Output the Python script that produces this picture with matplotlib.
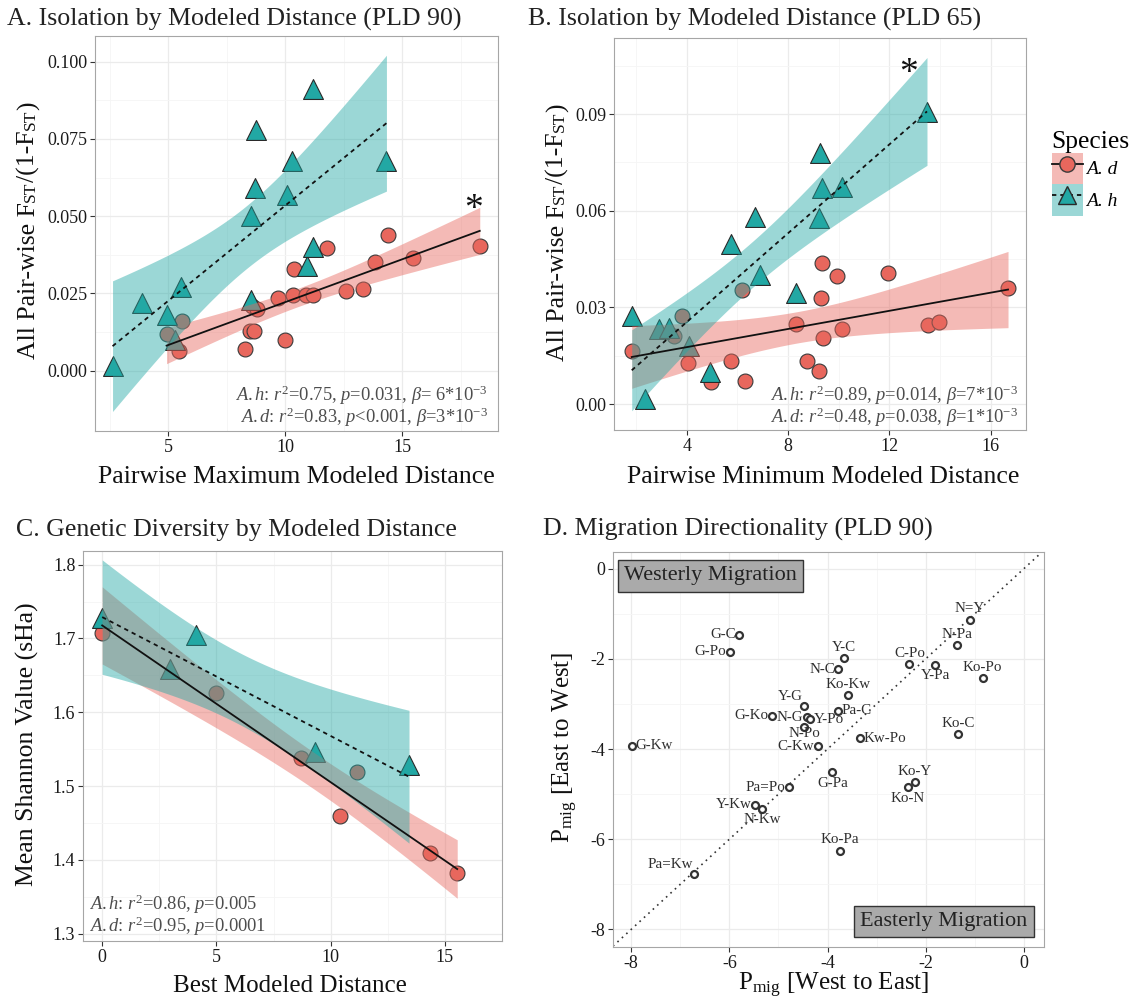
import numpy as np
import matplotlib
matplotlib.use('Agg')
import matplotlib.pyplot as plt
from matplotlib.lines import Line2D
from matplotlib.patches import Patch

SERIF = 'Liberation Serif'
plt.rcParams['font.family'] = SERIF
plt.rcParams['mathtext.fontset'] = 'custom'
plt.rcParams['mathtext.rm'] = SERIF
plt.rcParams['mathtext.it'] = SERIF + ':italic'
plt.rcParams['axes.unicode_minus'] = False

# A: isolation by maximum modeled distance (PLD 90)
a_h_dist = [2.62, 3.90, 4.93, 5.54, 5.31, 8.56, 8.52, 8.73, 8.77, 10.09, 10.31, 11.17, 10.94, 11.17, 14.33]
a_h_fst = [0.0015, 0.022, 0.018, 0.027, 0.010, 0.023, 0.050, 0.059, 0.078, 0.057, 0.068, 0.091, 0.034, 0.040, 0.068]
a_d_dist = [4.93, 5.61, 5.46, 8.28, 8.49, 8.66, 8.60, 8.80, 10.01, 9.70, 10.34, 10.88, 11.20, 10.37, 11.81,
            12.58, 13.33, 13.83, 14.40, 15.47, 18.32]
a_d_fst = [0.012, 0.016, 0.0065, 0.007, 0.013, 0.013, 0.021, 0.020, 0.010, 0.0236, 0.0245, 0.0245, 0.0245, 0.033,
           0.0396, 0.0258, 0.0266, 0.0353, 0.0439, 0.0364, 0.0403]

# B: isolation by minimum modeled distance (PLD 65)
b_h_dist = [13.49, 1.83, 2.34, 2.92, 3.30, 4.08, 4.93, 5.75, 6.68, 6.89, 8.30, 9.26, 9.34, 10.15, 9.23]
b_h_fst = [0.0907, 0.0273, 0.0015, 0.0232, 0.0235, 0.018, 0.0098, 0.0497, 0.0582, 0.0402, 0.0345, 0.0778,
           0.0672, 0.0674, 0.0577]
b_d_dist = [1.83, 3.81, 3.50, 4.05, 4.96, 5.75, 6.17, 6.29, 8.30, 8.77, 9.22, 9.31, 9.34, 9.37, 9.93, 10.15,
            11.97, 13.52, 13.95, 16.69]
b_d_fst = [0.0165, 0.0273, 0.021, 0.0126, 0.0067, 0.0134, 0.0353, 0.0072, 0.0247, 0.0134, 0.0103, 0.033,
           0.0438, 0.0206, 0.0397, 0.0234, 0.0407, 0.0244, 0.0256, 0.0361]

# C: genetic diversity vs best modeled distance
c_h_dist = [0.0, 2.96, 4.09, 9.30, 13.43]
c_h_sha = [1.728, 1.659, 1.704, 1.546, 1.528]
c_d_dist = [0.0, 4.96, 8.72, 10.39, 11.14, 14.33, 15.54]
c_d_sha = [1.708, 1.626, 1.538, 1.459, 1.519, 1.409, 1.382]

# D: migration directionality (PLD 90)
pairs = ['N=Y', 'N-Pa', 'G-C', 'G-Po', 'Y-C', 'N-C', 'C-Po', 'Y-Pa', 'Ko-Po', 'Ko-Kw', 'Y-G', 'Pa-C', 'G-Ko',
         'N-G', 'Y-Po', 'N-Po', 'Kw-Po', 'Ko-C', 'G-Kw', 'C-Kw', 'G-Pa', 'Ko-Y', 'Ko-N', 'Pa=Po', 'Y-Kw',
         'N-Kw', 'Ko-Pa', 'Pa=Kw']
pmig_w2e = [-1.10, -1.36, -5.80, -5.99, -3.67, -3.78, -2.33, -1.81, -0.84, -3.58, -4.47, -3.78, -5.13,
            -4.42, -4.36, -4.48, -3.33, -1.34, -7.98, -4.20, -3.90, -2.22, -2.36, -4.79, -5.47, -5.33,
            -3.74, -6.71]
pmig_e2w = [-1.13, -1.69, -1.47, -1.84, -1.99, -2.23, -2.11, -2.13, -2.43, -2.81, -3.04, -3.15, -3.26,
            -3.30, -3.34, -3.50, -3.76, -3.67, -3.93, -3.94, -4.52, -4.74, -4.85, -4.85, -5.23, -5.33,
            -6.25, -6.76]
label_side = ['a', 'a', 'l', 'l', 'a', 'l', 'a', 'b', 'a', 'a', 'al', 'r', 'l',
              'l', 'r', 'bt', 'r', 'a', 'r', 'l', 'b', 'a', 'b', 'l', 'l',
              'b', 'a', 'al']

RED = '#E8675D'
TEAL = '#22A8A4'
W, H = 1135, 1005


def t975(dof):
    # Cornish-Fisher expansion of the Student t 97.5% quantile
    z = 1.959964
    v = float(dof)
    return (z + (z**3 + z) / (4 * v) + (5 * z**5 + 16 * z**3 + 3 * z) / (96 * v**2)
            + (3 * z**7 + 19 * z**5 + 17 * z**3 - 15 * z) / (384 * v**3)
            + (79 * z**9 + 776 * z**7 + 1482 * z**5 - 1920 * z**3 - 945 * z) / (92160 * v**4))


def lm_band(x, y, n=100):
    x = np.asarray(x, float)
    y = np.asarray(y, float)
    b1, b0 = np.polyfit(x, y, 1)
    xs = np.linspace(x.min(), x.max(), n)
    fit = b0 + b1 * xs
    resid = y - (b0 + b1 * x)
    dof = len(x) - 2
    s = np.sqrt(np.sum(resid**2) / dof)
    se = s * np.sqrt(1 / len(x) + (xs - x.mean())**2 / np.sum((x - x.mean())**2))
    t = t975(dof)
    return xs, fit, fit - t * se, fit + t * se


def draw_species(ax, dx, dy, hx, hy):
    ax.scatter(dx, dy, s=115, marker='o', facecolor=RED, edgecolor='#3a3a3a', linewidth=0.8, zorder=3)
    ax.scatter(hx, hy, s=205, marker='^', facecolor=TEAL, edgecolor='#2a2a2a', linewidth=0.8, zorder=3)
    for x, y, col, ls in [(dx, dy, RED, '-'), (hx, hy, TEAL, (0, (2.4, 2.2)))]:
        xs, fit, lo, hi = lm_band(x, y)
        ax.fill_between(xs, lo, hi, color=col, alpha=0.45, lw=0, zorder=4)
        ax.plot(xs, fit, color='#111111', lw=1.3, ls=ls, zorder=5)


def style_axes(ax, xlim, ylim, xmaj, xmin, ymaj, ymin, yfmt='{:g}'):
    ax.set_xlim(xlim)
    ax.set_ylim(ylim)
    ax.set_xticks(xmaj)
    ax.set_xticks(xmin, minor=True)
    ax.set_yticks(ymaj)
    ax.set_yticks(ymin, minor=True)
    ax.set_xticklabels(['{:g}'.format(v) for v in xmaj])
    ax.set_yticklabels([yfmt.format(v) for v in ymaj])
    ax.grid(which='major', color='#EBEBEB', lw=0.9)
    ax.grid(which='minor', color='#F5F5F5', lw=0.6)
    ax.set_axisbelow(True)
    ax.tick_params(which='major', length=3.5, width=0.8, color='#333333', labelsize=13,
                   labelcolor='#1a1a1a', pad=2)
    ax.tick_params(which='minor', length=0)
    for sp in ax.spines.values():
        sp.set_color('#A6A6A6')
        sp.set_linewidth(0.8)


def px_axes(fig, x0, y0, x1, y1):
    return fig.add_axes([x0 / W, 1 - y1 / H, (x1 - x0) / W, (y1 - y0) / H])


def vertical_label(fig, x_base, y_center, pieces):
    # rotated label built from pieces of different sizes sharing one baseline
    renderer = fig.canvas.get_renderer()
    arts = []
    for s, size in pieces:
        t = fig.text(0, 0, s, fontsize=size, rotation=90, rotation_mode='anchor',
                     ha='left', va='baseline', color='#111111')
        arts.append((t, t.get_window_extent(renderer).height))
    total = sum(h for _, h in arts)
    y = y_center + total / 2
    for t, h in arts:
        t.set_position((x_base / W, 1 - y / H))
        y -= h


def stats_note(ax, x, y, lines, ha):
    ax.text(x, y, '\n'.join(lines), transform=ax.transAxes, ha=ha, va='bottom', multialignment=ha,
            fontsize=13.3, color='#4d4d4d', linespacing=0.92)


fig = plt.figure(figsize=(W / 100, H / 100), dpi=100)

# ---- A
axA = px_axes(fig, 95, 36, 498, 431)
draw_species(axA, a_d_dist, a_d_fst, a_h_dist, a_h_fst)
style_axes(axA, (1.87, 19.1), (-0.0195, 0.1083), [5, 10, 15], [2.5, 7.5, 12.5, 17.5],
           [0, 0.025, 0.05, 0.075, 0.1], [0.0125, 0.0375, 0.0625, 0.0875], '{:.3f}')
stats_note(axA, 0.975, 0.004, [r'$A.h$: $r^2$=0.75, $p$=0.031, $\beta$= 6*10$^{-3}$',
                               r'$A.d$: $r^2$=0.83, $p$<0.001, $\beta$=3*10$^{-3}$'], 'right')
axA.text(0.94, 0.56, '*', transform=axA.transAxes, ha='center', va='center', fontsize=27, color='#111111')

# ---- B
axB = px_axes(fig, 614, 38, 1026, 430.5)
draw_species(axB, b_d_dist, b_d_fst, b_h_dist, b_h_fst)
style_axes(axB, (1.13, 17.4), (-0.0082, 0.1136), [4, 8, 12, 16], [2, 6, 10, 14],
           [0, 0.03, 0.06, 0.09], [0.015, 0.045, 0.075, 0.105], '{:.2f}')
stats_note(axB, 0.981, 0.003, [r'$A.h$: $r^2$=0.89, $p$=0.014, $\beta$=7*10$^{-3}$',
                               r'$A.d$: $r^2$=0.48, $p$=0.038, $\beta$=1*10$^{-3}$'], 'right')
axB.text(0.714, 0.91, '*', transform=axB.transAxes, ha='center', va='center', fontsize=27, color='#111111')

# ---- C
axC = px_axes(fig, 83, 551, 502, 941)
draw_species(axC, c_d_dist, c_d_sha, c_h_dist, c_h_sha)
style_axes(axC, (-0.84, 17.35), (1.290, 1.8185), [0, 5, 10, 15], [2.5, 7.5, 12.5, 17.5],
           [1.3, 1.4, 1.5, 1.6, 1.7, 1.8], [1.35, 1.45, 1.55, 1.65, 1.75], '{:.1f}')
stats_note(axC, 0.014, 0.008, [r'$A.h$: $r^2$=0.86, $p$=0.005',
                               r'$A.d$: $r^2$=0.95, $p$=0.0001'], 'left')

# ---- D
axD = px_axes(fig, 613, 552, 1044, 947)
style_axes(axD, (-8.37, 0.41), (-8.39, 0.37), [-8, -6, -4, -2, 0], [-7, -5, -3, -1],
           [-8, -6, -4, -2, 0], [-7, -5, -3, -1])
axD.axline((0, 0), slope=1, color='#333333', lw=1.2, ls=(0, (1, 2.6)), zorder=2)
axD.plot(pmig_w2e, pmig_e2w, ls='none', marker='o', ms=5, mfc='white', mec='#333333', mew=1.6, zorder=3)
offsets = {'a': ((0, 3), 'center', 'bottom'), 'b': ((0, -3), 'center', 'top'),
           'bt': ((0, -0.5), 'center', 'top'),
           'l': ((-2.5, 0), 'right', 'center'), 'r': ((2.5, 0), 'left', 'center'),
           'al': ((-1, 2), 'right', 'bottom')}
for name, x, y, side in zip(pairs, pmig_w2e, pmig_e2w, label_side):
    off, ha, va = offsets[side]
    axD.annotate(name, (x, y), xytext=off, textcoords='offset points', ha=ha, va=va,
                 fontsize=10.8, color='#2e2e2e', zorder=4)
box_kw = dict(boxstyle='square,pad=0.28', fc='#AAAAAA', ec='#333333', lw=1.0)
axD.text(-8.14, -0.16, 'Westerly Migration', ha='left', va='center', fontsize=16, color='#222222',
         bbox=box_kw, zorder=5)
axD.text(0.07, -7.82, 'Easterly Migration', ha='right', va='center', fontsize=16, color='#222222',
         bbox=box_kw, zorder=5)

# ---- titles and axis labels
title_kw = dict(fontsize=18.6, color='#222222', va='baseline', ha='left')
fig.text(7 / W, 1 - 26 / H, 'A. Isolation by Modeled Distance (PLD 90)', **title_kw)
fig.text(528 / W, 1 - 26 / H, 'B. Isolation by Modeled Distance (PLD 65)', **title_kw)
fig.text(16 / W, 1 - 536 / H, 'C. Genetic Diversity by Modeled Distance', **title_kw)
fig.text(543 / W, 1 - 536 / H, 'D. Migration Directionality (PLD 90)', **title_kw)

xl_kw = dict(ha='center', va='baseline', color='#111111')
fig.text(296 / W, 1 - 483 / H, 'Pairwise Maximum Modeled Distance', fontsize=18.5, **xl_kw)
fig.text(823 / W, 1 - 483 / H, 'Pairwise Minimum Modeled Distance', fontsize=18.5, **xl_kw)
fig.text(290 / W, 1 - 992 / H, 'Best Modeled Distance', fontsize=18, **xl_kw)
fig.text(834 / W, 1 - 990 / H, r'P$_{\mathrm{mig}}$ [West to East]', fontsize=18, **xl_kw)

fst_pieces = [('All Pair-wise F', 18.5), ('ST', 12.5), ('/(1-F', 18.5), ('ST', 12.5), (')', 18.5)]
vertical_label(fig, 35, 230, fst_pieces)
vertical_label(fig, 564, 232, fst_pieces)
fig.text(27 / W, 1 - 744 / H, 'Mean Shannon Value (sHa)', rotation=90, ha='center', va='center',
         fontsize=18.5, color='#111111')
fig.text(565 / W, 1 - 747 / H, r'P$_{\mathrm{mig}}$ [East to West]', rotation=90, ha='center',
         va='center', fontsize=18, color='#111111')

# ---- species legend
handles = [(Patch(fc=RED, alpha=0.45, ec='none'),
            Line2D([], [], color='#111111', lw=1.3, ls='-', marker='o', ms=11, mfc=RED, mec='#3a3a3a')),
           (Patch(fc=TEAL, alpha=0.45, ec='none'),
            Line2D([], [], color='#111111', lw=1.3, ls=(0, (2.4, 2.2)), marker='^', ms=13.5, mfc=TEAL,
                   mec='#2a2a2a'))]
fig.legend(handles, ['A. d', 'A. h'], title='Species', loc='upper left',
           bbox_to_anchor=(1036 / W, 1 - 115 / H), frameon=False, numpoints=1,
           handlelength=1.6, handleheight=2.12, labelspacing=0.0, handletextpad=0.15,
           prop={'style': 'italic', 'size': 14}, title_fontproperties={'size': 18.4},
           alignment='left', borderpad=0.3)

fig.savefig('out.png', dpi=100)
